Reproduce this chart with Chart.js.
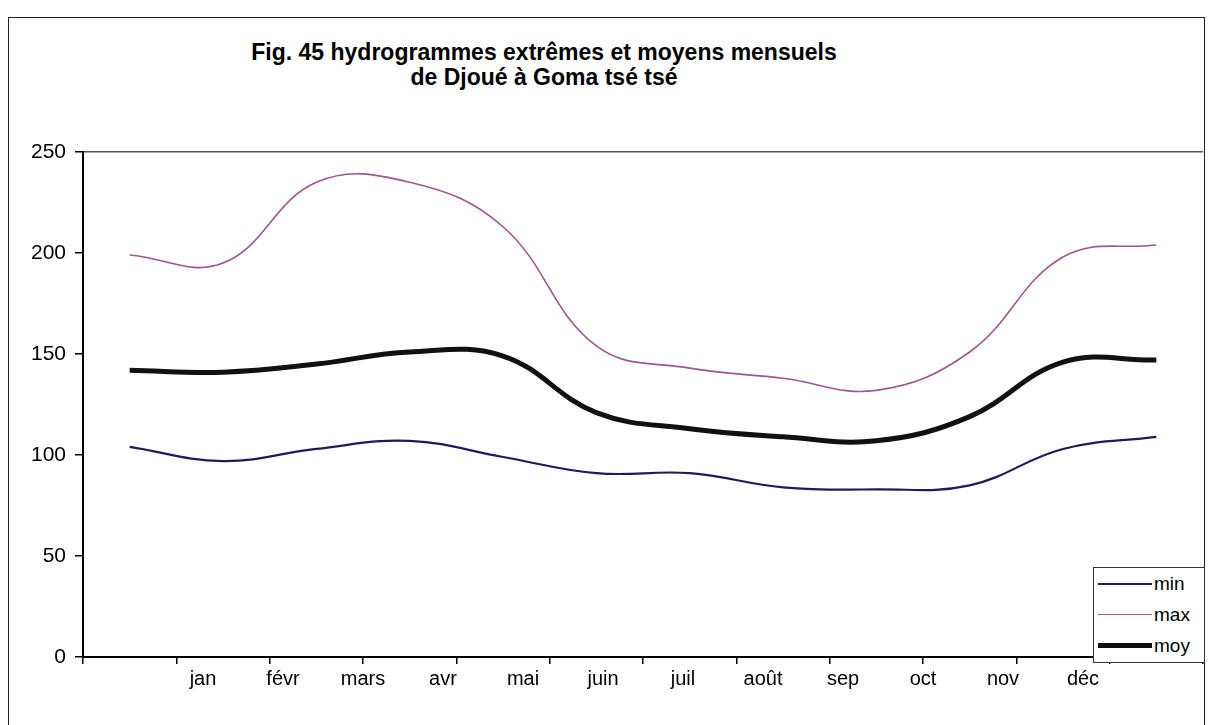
<!DOCTYPE html>
<html>
<head>
<meta charset="utf-8">
<script src="https://cdn.jsdelivr.net/npm/chart.js@4.4.1/dist/chart.umd.min.js"></script>
<style>
  body { margin: 0; background: #fff; font-family: "Liberation Sans", Arial, sans-serif; }
  #wrap { position: relative; width: 1208px; height: 725px; overflow: hidden; }
  #frame { position: absolute; left: 8px; top: 17px; width: 1197px; height: 780px; border: 1.5px solid #222; box-sizing: border-box; }
  #title { position: absolute; left: 0; top: 40px; width: 1088px; text-align: center; font-weight: bold; font-size: 23px; line-height: 25px; color: #000; }
  canvas { position: absolute; left: 0; top: 0; }
  #legend { position: absolute; left: 1093px; top: 567px; width: 112px; height: 96px; border: 1.5px solid #333; box-sizing: border-box; background: #fff; padding-top: 0px; }
  .item { display: flex; align-items: center; height: 31px; font-size: 19px; color: #000; }
  .swatch { width: 54px; margin-left: 4px; margin-right: 2px; }
</style>
</head>
<body>
<div id="wrap">
  <div id="frame"></div>
  <div id="title">Fig. 45 hydrogrammes extrêmes et moyens mensuels<br>de Djoué à Goma tsé tsé</div>
  <canvas id="chart" width="1208" height="725"></canvas>
  <div id="legend"></div>
</div>
<script>
// monthly flows
const months = ['jan', 'févr', 'mars', 'avr', 'mai', 'juin', 'juil', 'août', 'sep', 'oct', 'nov', 'déc'];
const minFlow = [104, 97, 103, 107, 99, 91, 91, 84, 83, 85, 103, 109];
const maxFlow = [199, 195, 235, 235, 213, 154, 143, 138, 132, 151, 198, 204];
const moyFlow = [142, 141, 145, 151, 149, 121, 113, 109, 107, 119, 146, 147];
const yMax = 250;
const yStep = 50;

// the month names in the scan sit on a narrower band than the plot
const labelBandInset = 80;
const narrowLabels = {
  id: 'narrowLabels',
  afterLayout(chart) {
    const s = chart.scales.x2;
    s.left += labelBandInset;
    s.right -= labelBandInset;
    s.width = s.right - s.left;
    s.configure();
  }
};

const datasets = [
  { label: 'min', data: minFlow, borderColor: '#1c1b5e', borderWidth: 2.2 },
  { label: 'max', data: maxFlow, borderColor: '#a0568f', borderWidth: 1.6 },
  { label: 'moy', data: moyFlow, borderColor: '#111111', borderWidth: 5 }
];

const ctx = document.getElementById('chart').getContext('2d');
const chart = new Chart(ctx, {
  type: 'line',
  data: {
    labels: months,
    datasets: datasets.map(d => Object.assign({ xAxisID: 'x', pointRadius: 0, tension: 0.4, fill: false }, d))
  },
  options: {
    responsive: false,
    animation: false,
    layout: { padding: { left: 0, right: 5, top: 152, bottom: 31 } },
    plugins: { legend: { display: false }, tooltip: { enabled: false } },
    scales: {
      x: {
        type: 'category',
        offset: true,
        grid: { offset: true, drawOnChartArea: false, drawTicks: true, tickLength: 7, color: '#000', lineWidth: 1.5 },
        border: { color: '#000', width: 2 },
        ticks: { display: false },
        afterFit: s => { s.height = 7; }
      },
      x2: {
        type: 'category',
        position: 'bottom',
        offset: true,
        grid: { display: false },
        border: { display: false },
        ticks: { autoSkip: false, maxRotation: 0, padding: -5, color: '#000', font: { family: 'Liberation Sans', size: 20 } },
        afterFit: s => { s.height = 30; }
      },
      y: {
        min: 0,
        max: yMax,
        ticks: { stepSize: yStep, padding: 9, color: '#000', font: { family: 'Liberation Sans', size: 21 } },
        grid: {
          tickLength: 8,
          lineWidth: 1.5,
          tickColor: '#000',
          color: c => (c.tick && c.tick.value === yMax) ? '#555' : 'rgba(0,0,0,0)'
        },
        border: { color: '#000', width: 2 },
        afterFit: s => { s.width = 83; }
      }
    }
  },
  plugins: [narrowLabels]
});

// legend box like the Excel one, overlapping the plot corner
const legend = document.getElementById('legend');
datasets.forEach(d => {
  const row = document.createElement('div');
  row.className = 'item';
  const sw = document.createElement('div');
  sw.className = 'swatch';
  sw.style.borderTop = d.borderWidth + 'px solid ' + d.borderColor;
  row.appendChild(sw);
  row.appendChild(document.createTextNode(d.label));
  legend.appendChild(row);
});
</script>
</body>
</html>
